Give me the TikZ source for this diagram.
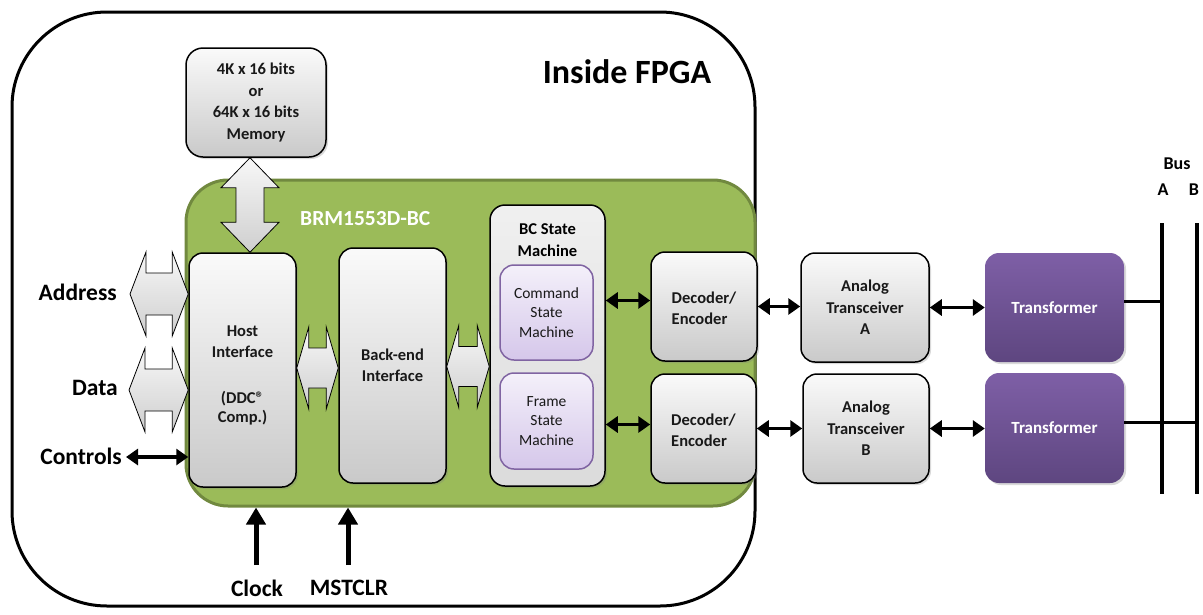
\documentclass[tikz,border=0pt]{standalone}
\usepackage{fontspec}
\setmainfont{Carlito}
\usetikzlibrary{arrows.meta,shadows,calc}

\definecolor{grn}{HTML}{9BBB59}
\definecolor{grnd}{HTML}{71893F}
\definecolor{purp}{HTML}{8064A2}
\definecolor{purpt}{HTML}{7E5FA6}
\definecolor{purpb}{HTML}{5E4680}
\definecolor{lav1}{HTML}{F4F0FA}
\definecolor{lav2}{HTML}{D5C7EA}

\newcommand{\hblock}[5]{%
\path[blockarrow] let \p1=#1, \p2=#2 in
 (\x1,\y1) -- (\x1+#5,\y1+#3) -- (\x1+#5,\y1+#4) -- (\x2-#5,\y1+#4) -- (\x2-#5,\y1+#3) -- (\x2,\y1)
 -- (\x2-#5,\y1-#3) -- (\x2-#5,\y1-#4) -- (\x1+#5,\y1-#4) -- (\x1+#5,\y1-#3) -- cycle;}
\newcommand{\vblock}[5]{%
\path[blockarrow] let \p1=#1, \p2=#2 in
 (\x1,\y1) -- (\x1+#3,\y1-#5) -- (\x1+#4,\y1-#5) -- (\x1+#4,\y2+#5) -- (\x1+#3,\y2+#5) -- (\x1,\y2)
 -- (\x1-#3,\y2+#5) -- (\x1-#4,\y2+#5) -- (\x1-#4,\y1-#5) -- (\x1-#3,\y1-#5) -- cycle;}

\tikzset{
  box/.style={draw=black, line width=1.5pt, rounded corners=14pt, top color=gray!4, bottom color=gray!42,
    font=\bfseries\fontsize{16.5}{21.5}\selectfont, align=center, inner sep=0pt, text=black!90,
    drop shadow={shadow xshift=2pt, shadow yshift=-2pt, opacity=0.3}},
  smbox/.style={draw=purp, line width=1.5pt, rounded corners=14pt, top color=lav1, bottom color=lav2,
    font=\fontsize{15.5}{19.5}\selectfont, align=center, inner sep=0pt, text=black!90},
  trbox/.style={draw=none, rounded corners=14pt, top color=purpt, bottom color=purpb,
    font=\bfseries\fontsize{17}{21}\selectfont, text=white, inner sep=0pt,
    drop shadow={shadow xshift=2pt, shadow yshift=-2pt, opacity=0.3}},
  blockarrow/.style={draw=black, line width=0.8pt, top color=gray!6, bottom color=gray!38},
  dblarr/.style={line width=3.5pt, {Triangle[length=12pt,width=16pt]}-{Triangle[length=12pt,width=16pt]}},
  uparr/.style={line width=5pt, -{Triangle[length=17pt,width=19pt]}},
  lbl/.style={font=\bfseries\fontsize{23.5}{27}\selectfont, inner sep=0pt},
  buslbl/.style={font=\bfseries\fontsize{18}{21}\selectfont, inner sep=0pt},
  busline/.style={line width=4pt},
  tapline/.style={line width=3pt},
}

\begin{document}
\begin{tikzpicture}[x=1pt,y=-1pt]
\useasboundingbox (0,0) rectangle (1203,614);

% outer FPGA boundary
\node[draw=black, line width=3pt, rounded corners=95pt, minimum width=743pt, minimum height=594pt, inner sep=0pt] (fpga) at (383.5,309) {};
\node[font=\bfseries\fontsize{34}{38}\selectfont, inner sep=0pt] (fpgalbl) at (627,72) {Inside FPGA};

% green core
\node[draw=grnd, fill=grn, line width=3pt, rounded corners=42pt, minimum width=569pt, minimum height=326pt, inner sep=0pt] (core) at (470.5,343) {};
\node[font=\bfseries\fontsize{21.5}{24}\selectfont, text=white, anchor=west, inner sep=0pt] (corelbl) at (300,219) {BRM1553D-BC};

% blocks
\node[box, rounded corners=17pt, minimum width=140pt, minimum height=109pt] (mem) at (256,102.5) {4K x 16 bits\\or\\64K x 16 bits\\Memory};
\node[box, minimum width=107pt, minimum height=234pt] (host) at (242.5,370) {\begin{tabular}{@{}c@{}}\rule{0pt}{25pt}Host\\Interface\\[24pt](DDC®\\[-2pt]Comp.)\end{tabular}};
\node[box, minimum width=107pt, minimum height=235pt] (back) at (392.5,365.5) {Back-end\\Interface};
\node[draw=black, line width=1.5pt, rounded corners=15pt, top color=gray!12, bottom color=gray!28, minimum width=115pt, minimum height=281pt, inner sep=0pt,
  drop shadow={shadow xshift=2pt, shadow yshift=-2pt, opacity=0.3}] (bc) at (547.5,345.5) {};
\node[font=\bfseries\fontsize{16.5}{22}\selectfont, align=center, inner sep=0pt] (bctitle) at (547.5,240) {BC State\\Machine};
\node[smbox, minimum width=93pt, minimum height=95pt] (cmd) at (546.5,312.5) {Command\\State\\Machine};
\node[smbox, minimum width=93pt, minimum height=96pt] (frm) at (546.5,421) {Frame\\State\\Machine};

\node[box, minimum width=106pt, minimum height=109pt] (decA) at (704,306.5) {\begin{tabular}{@{}l@{}}\rule{0pt}{21pt}Decoder/\\Encoder\end{tabular}};
\node[box, minimum width=105pt, minimum height=109pt] (decB) at (703.5,428.5) {\begin{tabular}{@{}l@{}}\rule{0pt}{21pt}Decoder/\\Encoder\end{tabular}};
\node[box, minimum width=128pt, minimum height=109pt] (anA) at (865,307.5) {Analog\\Transceiver\\A};
\node[box, minimum width=126pt, minimum height=109pt] (anB) at (866,428.5) {Analog\\Transceiver\\B};
\node[trbox, minimum width=139pt, minimum height=109pt] (trA) at (1054.5,307.5) {Transformer};
\node[trbox, minimum width=139pt, minimum height=110pt] (trB) at (1054.5,428) {Transformer};

% bus
\coordinate (busAtop) at (1162,223);
\coordinate (busAbot) at (1162,494);
\coordinate (busBtop) at (1197,223);
\coordinate (busBbot) at (1197,494);
\draw[busline] (busAtop) -- (busAbot);
\draw[busline] (busBtop) -- (busBbot);
\node[buslbl] (buslabel) at (1177,164) {Bus};
\node[buslbl] (busAl) at (1163,190) {A};
\node[buslbl] (busBl) at (1194,190) {B};
\draw[tapline] ([yshift=6pt]trA.east) -- ([yshift=6pt]trA.east -| busAtop);
\draw[tapline] ([yshift=6pt]trB.east) -- ([yshift=6pt]trB.east -| busBtop);

% external labels
\node[lbl, anchor=east] (addr) at (117,292) {Address};
\node[lbl, anchor=east] (data) at (118,388) {Data};
\node[lbl, anchor=east] (ctrl) at (122,456) {Controls};
\coordinate (addrL) at (130,294);
\coordinate (dataL) at (129,390);
\coordinate (ctrlL) at (126,457);

% block arrows
\vblock{($(mem.south)+(-6,0)$)}{(host.north)}{29pt}{14pt}{30pt}
\hblock{(addrL)}{(host.west |- addrL)}{42pt}{21pt}{16pt}
\hblock{(dataL)}{(host.west |- dataL)}{42pt}{21pt}{16pt}
\hblock{($(host.east)+(0,-2)$)}{(back.west)}{41pt}{20pt}{12pt}
\hblock{($(back.east)+(0,1)$)}{(bc.west)}{41pt}{20pt}{12pt}

% thin double arrows
\draw[dblarr] (ctrlL) -- (host.west |- ctrlL);
\draw[dblarr] ([yshift=6pt]decA.west -| bc.east) -- ([yshift=6pt]decA.west);
\draw[dblarr] ([yshift=4pt]decB.west -| bc.east) -- ([yshift=4pt]decB.west);
\draw[dblarr] (decA.east) -- (decA.east -| anA.west);
\draw[dblarr] (decB.east) -- (decB.east -| anB.west);
\draw[dblarr] (anA.east) -- (anA.east -| trA.west);
\draw[dblarr] (anB.east) -- (anB.east -| trB.west);

% clock and reset
\coordinate (clkB) at (256,565);
\coordinate (rstB) at (348,565);
\draw[uparr] (clkB) -- (clkB |- core.south);
\draw[uparr] (rstB) -- (rstB |- core.south);
\node[lbl] (clk) at (257,588) {Clock};
\node[lbl] (rst) at (349,588) {MSTCLR};
\end{tikzpicture}
\end{document}
